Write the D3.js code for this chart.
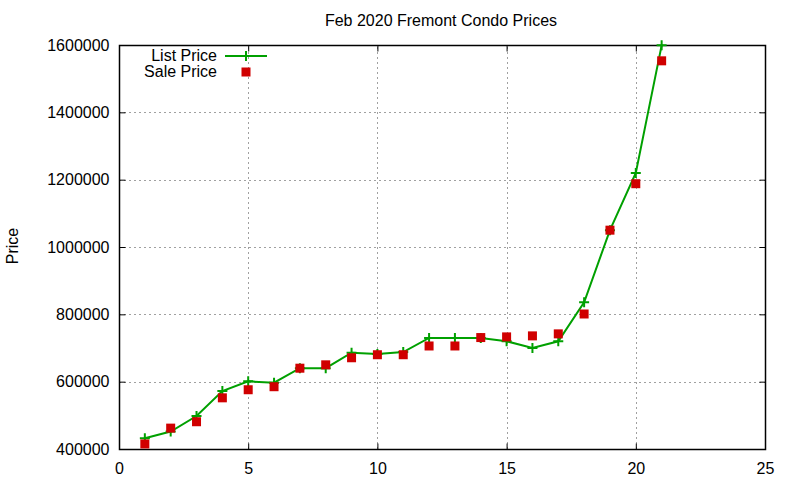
<!DOCTYPE html>
<html>
<head>
<meta charset="utf-8">
<script src="https://cdn.jsdelivr.net/npm/d3@7"></script>
<style>
  body { margin: 0; background: #fff; }
  text { font-family: "Liberation Sans", Arial, sans-serif; fill: #000; }
</style>
</head>
<body>
<script>
// data
var days = [1, 2, 3, 4, 5, 6, 7, 8, 9, 10, 11, 12, 13, 14, 15, 16, 17, 18, 19, 20, 21];
var listPrice = [432000, 452000, 498000, 572000, 601000, 597000, 640000, 640000, 686000, 682000, 688000,
                 730000, 730000, 730000, 720000, 700000, 720000, 836000, 1050000, 1220000, 1599000];
var salePrice = [415000, 462000, 481000, 552000, 576000, 585000, 640000, 650000, 671000, 680000, 680000,
                 706000, 706000, 731000, 733000, 736000, 742000, 801000, 1050000, 1188000, 1553000];
var xTicks = [0, 5, 10, 15, 20, 25];
var yTicks = [400000, 600000, 800000, 1000000, 1200000, 1400000, 1600000];

var width = 800, height = 480;
var margin = {top: 45, right: 35, bottom: 31, left: 119};

var svg = d3.select("body").append("svg")
    .attr("width", width)
    .attr("height", height);

var x = d3.scaleLinear().domain([0, 25]).range([margin.left, width - margin.right]);
var y = d3.scaleLinear().domain([400000, 1600000]).range([height - margin.bottom, margin.top]);

// grid
var grid = svg.append("g")
    .attr("stroke", "#a0a0a0")
    .attr("stroke-width", 1)
    .attr("stroke-dasharray", "2,3");
grid.selectAll(".gx").data(xTicks.slice(1, -1)).enter().append("line")
    .attr("x1", function(d) { return Math.round(x(d)) + 0.5; })
    .attr("x2", function(d) { return Math.round(x(d)) + 0.5; })
    .attr("y1", y(400000)).attr("y2", y(1600000));
grid.selectAll(".gy").data(yTicks.slice(1, -1)).enter().append("line")
    .attr("y1", function(d) { return Math.round(y(d)) + 0.5; })
    .attr("y2", function(d) { return Math.round(y(d)) + 0.5; })
    .attr("x1", x(0)).attr("x2", x(25));

// axes (ticks inward, mirrored)
var fs = "16px";
svg.append("g")
    .attr("transform", "translate(0," + (Math.round(y(400000)) + 0.5) + ")")
    .call(d3.axisBottom(x).tickValues(xTicks).tickSizeInner(-6).tickSizeOuter(0).tickPadding(13))
    .call(function(g) { g.select(".domain").remove(); g.selectAll("text").style("font-size", fs); });
svg.append("g")
    .attr("transform", "translate(0," + (Math.round(y(1600000)) + 0.5) + ")")
    .call(d3.axisTop(x).tickValues(xTicks).tickSizeInner(-6).tickSizeOuter(0).tickFormat(""))
    .call(function(g) { g.select(".domain").remove(); });
svg.append("g")
    .attr("transform", "translate(" + (Math.round(x(0)) + 0.5) + ",0)")
    .call(d3.axisLeft(y).tickValues(yTicks).tickFormat(d3.format("d")).tickSizeInner(-6).tickSizeOuter(0).tickPadding(10))
    .call(function(g) { g.select(".domain").remove(); g.selectAll("text").style("font-size", fs); });
svg.append("g")
    .attr("transform", "translate(" + (Math.round(x(25)) + 0.5) + ",0)")
    .call(d3.axisRight(y).tickValues(yTicks).tickSizeInner(-6).tickSizeOuter(0).tickFormat(""))
    .call(function(g) { g.select(".domain").remove(); });

// frame
svg.append("rect")
    .attr("x", Math.round(x(0)) + 0.5)
    .attr("y", Math.round(y(1600000)) + 0.5)
    .attr("width", Math.round(x(25)) - Math.round(x(0)))
    .attr("height", Math.round(y(400000)) - Math.round(y(1600000)))
    .attr("fill", "none")
    .attr("stroke", "#000")
    .attr("stroke-width", 1.5);

// list price line
var line = d3.line()
    .x(function(d, i) { return x(days[i]); })
    .y(function(d) { return y(d); });
svg.append("path")
    .datum(listPrice)
    .attr("d", line)
    .attr("fill", "none")
    .attr("stroke", "#00a000")
    .attr("stroke-width", 2);

function cross(g, cx, cy) {
  g.append("path")
      .attr("d", "M" + (cx - 5) + "," + cy + "H" + (cx + 5) + "M" + cx + "," + (cy - 5) + "V" + (cy + 5))
      .attr("stroke", "#00a000")
      .attr("stroke-width", 2);
}
var crosses = svg.append("g");
listPrice.forEach(function(d, i) { cross(crosses, x(days[i]), y(d)); });

// sale price squares
svg.append("g").selectAll("rect")
    .data(salePrice)
    .enter().append("rect")
    .attr("x", function(d, i) { return x(days[i]) - 4.5; })
    .attr("y", function(d) { return y(d) - 4.5; })
    .attr("width", 9)
    .attr("height", 9)
    .attr("fill", "#d00000");

// title and axis label
svg.append("text")
    .attr("x", 441).attr("y", 26)
    .attr("text-anchor", "middle")
    .style("font-size", "16px")
    .text("Feb 2020 Fremont Condo Prices");
svg.append("text")
    .attr("transform", "translate(18,246) rotate(-90)")
    .attr("text-anchor", "middle")
    .style("font-size", "16px")
    .text("Price");

// legend
var legend = svg.append("g");
legend.append("text")
    .attr("x", 217).attr("y", 61)
    .attr("text-anchor", "end")
    .style("font-size", "16px")
    .text("List Price");
legend.append("line")
    .attr("x1", 225).attr("x2", 267).attr("y1", 56).attr("y2", 56)
    .attr("stroke", "#00a000").attr("stroke-width", 2);
cross(legend, 246, 56);
legend.append("text")
    .attr("x", 217).attr("y", 77)
    .attr("text-anchor", "end")
    .style("font-size", "16px")
    .text("Sale Price");
legend.append("rect")
    .attr("x", 241.5).attr("y", 67.5).attr("width", 9).attr("height", 9)
    .attr("fill", "#d00000");
</script>
</body>
</html>
